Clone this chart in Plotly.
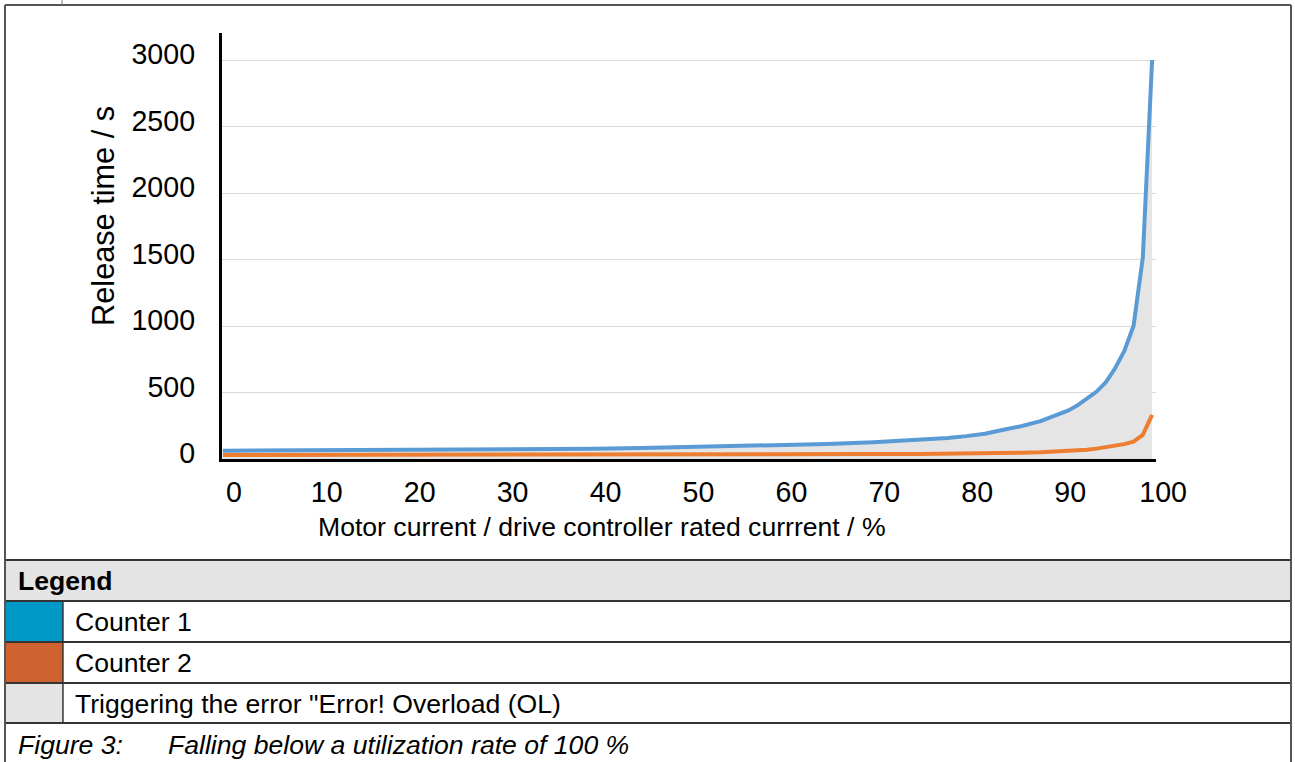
import plotly.graph_objects as go

# ---- data ----
motor_current_pct = [0, 5, 10, 15, 20, 25, 30, 35, 40, 45, 50, 55, 60, 65, 70, 75, 78, 80,
                     82, 84, 86, 88, 90, 91, 92, 93, 94, 95, 96, 97, 98, 99, 100]
counter1_s = [62, 63, 64, 66, 67, 68, 71, 74, 77, 82, 88, 95, 103, 113, 126, 143, 158, 172,
              190, 220, 248, 285, 335, 365, 405, 455, 505, 575, 680, 810, 1000, 1515, 3000]
counter2_s = [30, 30, 30, 31, 31, 31, 32, 32, 33, 33, 34, 34, 35, 36, 37, 38, 39, 40,
              42, 44, 47, 51, 56, 60, 64, 70, 78, 88, 98, 112, 130, 181, 332]
y_ticks = [0, 500, 1000, 1500, 2000, 2500, 3000]
x_ticks = [0, 10, 20, 30, 40, 50, 60, 70, 80, 90, 100]

legend_labels = ["Counter 1", "Counter 2", 'Triggering the error "Error! Overload (OL)']
legend_swatches = ["#0099c7", "#d06230", "#e4e4e4"]

# design grid (reference pixels) and the page size that maps onto it
W, H = 1295, 762
W_PAGE, H_PAGE = 1325, 772
K = W_PAGE / W  # size factor for fonts / strokes
FONT = "Arial, 'Liberation Sans', sans-serif"


def px(x):
    return x / W


def py(y):
    return 1 - y / H


def fs(s):
    return round(s * K, 1)


fig = go.Figure()
fig.add_trace(go.Scatter(x=motor_current_pct, y=counter1_s, mode="lines", fill="tozeroy",
                         fillcolor="#e5e5e5", line=dict(width=0), hoverinfo="skip",
                         showlegend=False))
fig.add_trace(go.Scatter(x=motor_current_pct, y=counter1_s, mode="lines", name="Counter 1",
                         line=dict(color="#5b9bd5", width=4), showlegend=False))
fig.add_trace(go.Scatter(x=motor_current_pct, y=counter2_s, mode="lines", name="Counter 2",
                         line=dict(color="#ed7d31", width=4), showlegend=False))

shapes = []
shapes.append(dict(type="rect", xref="paper", yref="paper", x0=px(5), x1=px(1292),
                   y0=py(601), y1=py(560), fillcolor="#e4e4e4", line=dict(width=0), layer="below"))
row_tops = [601, 642, 683]
for top, col in zip(row_tops, legend_swatches):
    shapes.append(dict(type="rect", xref="paper", yref="paper", x0=px(5), x1=px(63),
                       y0=py(top + 41), y1=py(top), fillcolor=col, line=dict(width=0), layer="below"))
for yy in [560, 601, 642, 683, 723]:
    shapes.append(dict(type="line", xref="paper", yref="paper", x0=px(5), x1=px(1292),
                       y0=py(yy), y1=py(yy), line=dict(color="#333333", width=2)))
shapes.append(dict(type="line", xref="paper", yref="paper", x0=px(63), x1=px(63),
                   y0=py(601), y1=py(723), line=dict(color="#333333", width=1.5)))
for (xa, ya, xb, yb) in [(5, 5, 1292, 5), (5, 5, 5, 762), (1292, 5, 1292, 762)]:
    shapes.append(dict(type="line", xref="paper", yref="paper", x0=px(xa), x1=px(xb),
                       y0=py(ya), y1=py(yb), line=dict(color="#555555", width=2)))
shapes.append(dict(type="line", xref="paper", yref="paper", x0=px(62), x1=px(62),
                   y0=py(0), y1=py(5), line=dict(color="#777777", width=1)))

annotations = [
    dict(text="Release time / s", x=px(104), y=py(216), xref="paper", yref="paper",
         textangle=-90, showarrow=False, font=dict(size=fs(30), color="black", family=FONT),
         xanchor="center", yanchor="middle"),
    dict(text="Motor current / drive controller rated currrent / %", x=px(602), y=py(527),
         xref="paper", yref="paper", showarrow=False,
         font=dict(size=fs(26), color="black", family=FONT), xanchor="center", yanchor="middle"),
    dict(text="<b>Legend</b>", x=px(16), y=py(581), xref="paper", yref="paper", showarrow=False,
         font=dict(size=fs(26), color="black", family=FONT), xanchor="left", yanchor="middle"),
    dict(text="<i>Figure 3:</i>", x=px(16), y=py(745), xref="paper", yref="paper", showarrow=False,
         font=dict(size=fs(26), color="black", family=FONT), xanchor="left", yanchor="middle"),
    dict(text="<i>Falling below a utilization rate of 100 %</i>", x=px(166), y=py(745),
         xref="paper", yref="paper", showarrow=False,
         font=dict(size=fs(26), color="black", family=FONT), xanchor="left", yanchor="middle"),
]
for i, lab in enumerate(legend_labels):
    annotations.append(dict(text=lab, x=px(73), y=py(row_tops[i] + 21), xref="paper", yref="paper",
                            showarrow=False, font=dict(size=fs(26), color="black", family=FONT),
                            xanchor="left", yanchor="middle"))

fig.update_layout(
    width=W_PAGE, height=H_PAGE, margin=dict(l=0, r=0, t=0, b=0),
    paper_bgcolor="white", plot_bgcolor="white",
    font=dict(family=FONT, color="black"),
    shapes=shapes, annotations=annotations,
    xaxis=dict(domain=[px(222), px(1157)], range=[-0.1075, 100.43], tickvals=x_ticks,
               showgrid=False, zeroline=False, showline=True, linecolor="black", linewidth=3,
               tickfont=dict(size=fs(28), family=FONT, color="black"), ticklabelstandoff=6,
               ticklabelshift=11, fixedrange=True),
    yaxis=dict(domain=[py(459), py(33)], range=[0, 3203], tickvals=y_ticks,
               showgrid=True, gridcolor="#d9d9d9", gridwidth=1.3, zeroline=False,
               showline=True, linecolor="black", linewidth=3,
               tickfont=dict(size=fs(28), family=FONT, color="black"), ticklabelstandoff=18,
               ticklabelshift=-6, fixedrange=True),
)

post = "document.body.style.margin='0';"
fig.write_html("out.html", config={"displayModeBar": False}, post_script=post)
